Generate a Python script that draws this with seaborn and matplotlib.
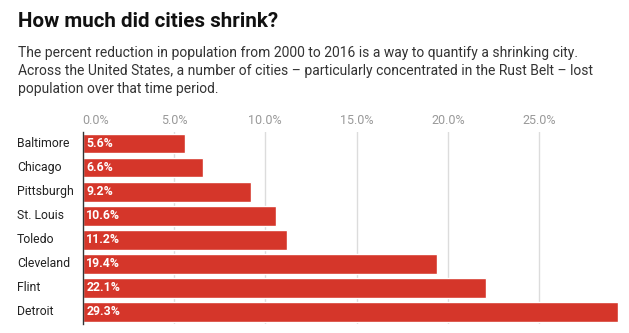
import matplotlib
matplotlib.use("Agg")
import matplotlib.pyplot as plt
import seaborn as sns
import pandas as pd

cities = ["Baltimore", "Chicago", "Pittsburgh", "St. Louis", "Toledo",
          "Cleveland", "Flint", "Detroit"]
reduction = [5.6, 6.6, 9.2, 10.6, 11.2, 19.4, 22.1, 29.3]
tick_values = [0, 5, 10, 15, 20, 25]
tick_labels = ["0.0%", "5.0%", "10.0%", "15.0%", "20.0%", "25.0%"]

title = "How much did cities shrink?"
subtitle = ("The percent reduction in population from 2000 to 2016 is a way to quantify a shrinking city.\n"
            "Across the United States, a number of cities \u2013 particularly concentrated in the Rust Belt \u2013 lost\n"
            "population over that time period.")

sns.set_theme(style="white")
plt.rcParams["font.family"] = ["Roboto", "DejaVu Sans"]

df = pd.DataFrame({"city": cities, "reduction": reduction})

W, H = 629, 333
fig = plt.figure(figsize=(W / 100, H / 100), dpi=100)
fig.patch.set_facecolor("white")

ax_left, ax_right = 82.7, 617.7
ax_top, ax_bottom = 131.5, 324.0
ax = fig.add_axes([ax_left / W, 1 - ax_bottom / H,
                   (ax_right - ax_left) / W, (ax_bottom - ax_top) / H])

sns.barplot(data=df, x="reduction", y="city", orient="h", color="#d5362a",
            saturation=1, width=0.82, ax=ax, zorder=3)

ax.set_xlim(0, 29.3)
ax.set_ylim(len(cities) - 0.5, -0.5)

# vertical gridlines
for v in tick_values[1:]:
    ax.axvline(v, color="#dcdcdc", lw=1, zorder=1)

for s in ["top", "right", "bottom"]:
    ax.spines[s].set_visible(False)
ax.spines["left"].set_color("#333333")
ax.spines["left"].set_linewidth(1)
ax.spines["left"].set_zorder(4)

ax.set_xlabel("")
ax.set_ylabel("")
ax.xaxis.tick_top()
ax.set_xticks(tick_values)
ax.set_xticklabels(tick_labels, color="#999999", fontsize=9)
ax.tick_params(axis="x", length=0, pad=3)
ax.get_xticklabels()[0].set_horizontalalignment("left")

ax.set_yticks([])
trans = matplotlib.transforms.blended_transform_factory(fig.transFigure, ax.transData)
for i, c in enumerate(cities):
    ax.text(17 / W, i, c, transform=trans, ha="left", va="center",
            fontsize=8.8, color="#222222")

for i, v in enumerate(reduction):
    ax.text(0.2, i, f"{v:.1f}%", ha="left", va="center", fontsize=8.8,
            fontweight="bold", color="white", zorder=5)

fig.text(18 / W, 1 - 21.5 / H, title, ha="left", va="center", fontsize=14.9,
         fontweight="bold", color="#111111")
fig.text(18 / W, 1 - 46 / H, subtitle, ha="left", va="top", fontsize=10.0,
         color="#333333", linespacing=1.36)

fig.savefig("out.png", dpi=100, facecolor="white")
